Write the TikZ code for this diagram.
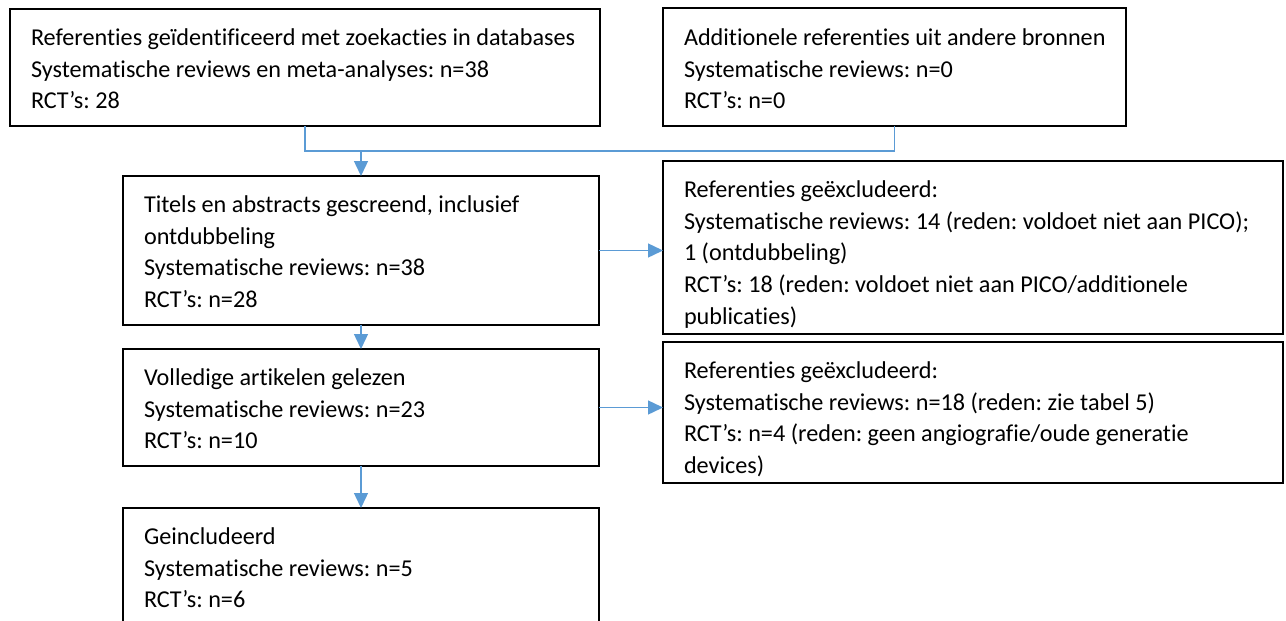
\documentclass[tikz,border=0pt]{standalone}
\usepackage{fontspec}
\setmainfont{Carlito}[Ligatures={NoCommon}]
\frenchspacing
\usetikzlibrary{arrows.meta,calc}
\newcommand\stk[1]{\vtop{\halign{##\hfil\cr#1\crcr}}}
\definecolor{conblue}{HTML}{5B9BD5}
\tikzset{
  box/.style={draw=black, line width=1.8pt, anchor=north west, inner sep=0pt, outer sep=0pt},
  txt/.style={anchor=base west, inner sep=0pt, outer sep=0pt, font=\fontsize{24.2}{31.7}\selectfont},
  conn/.style={draw=conblue, line width=1.4pt},
  arr/.style={conn, -{Triangle[length=15pt,width=14pt]}},
}
\begin{document}
\begin{tikzpicture}[x=1pt,y=-1pt]
\useasboundingbox (0,0) rectangle (1286,621);
\clip (0,0) rectangle (1286,621);
% boxes
\node[box, minimum width=590pt, minimum height=117pt] (b1) at (10,9) {};
\node[box, minimum width=463pt, minimum height=118pt] (b2) at (663,8) {};
\node[box, minimum width=476pt, minimum height=149pt] (tit) at (123,176) {};
\node[box, minimum width=620pt, minimum height=173pt] (exa) at (663,161) {};
\node[box, minimum width=476pt, minimum height=117pt] (vol) at (123,349) {};
\node[box, minimum width=620pt, minimum height=141pt] (exb) at (663,342) {};
\node[box, minimum width=476pt, minimum height=140pt] (inc) at (123,508) {};
% texts
\node[txt] (t1) at ($(b1.north west)+(21,36.5)$) {\stk{Referenties geïdentificeerd met zoekacties in databases\cr Systematische reviews en meta-analyses: n=38\cr RCT’s: 28}};
\node[txt] (t2) at ($(b2.north west)+(21,37.5)$) {\stk{Additionele referenties uit andere bronnen\cr Systematische reviews: n=0\cr RCT’s: n=0}};
\node[txt] (t3) at ($(tit.north west)+(21,36.5)$) {\stk{Titels en abstracts gescreend, inclusief\cr ontdubbeling\cr Systematische reviews: n=38\cr RCT’s: n=28}};
\node[txt] (t4) at ($(exa.north west)+(21,36.5)$) {\stk{Referenties geëxcludeerd:\cr Systematische reviews: 14 (reden: voldoet niet aan PICO);\cr 1 (ontdubbeling)\cr RCT’s: 18 (reden: voldoet niet aan PICO/additionele\cr publicaties)}};
\node[txt] (t5) at ($(vol.north west)+(21,36.5)$) {\stk{Volledige artikelen gelezen\cr Systematische reviews: n=23\cr RCT’s: n=10}};
\node[txt] (t6) at ($(exb.north west)+(21,36.5)$) {\stk{Referenties geëxcludeerd:\cr Systematische reviews: n=18 (reden: zie tabel 5)\cr RCT’s: n=4 (reden: geen angiografie/oude generatie\cr devices)}};
\node[txt] (t7) at ($(inc.north west)+(21,36.5)$) {\stk{Geincludeerd\cr Systematische reviews: n=5\cr RCT’s: n=6}};
% connectors
\coordinate (jn) at ($(b1.south)+(0,25)$);
\draw[conn] (b1.south) -- (jn) -| (b2.south);
\draw[arr] (tit.north |- jn) -- (tit.north);
\draw[arr] (tit.east) -- (tit.east -| exa.west);
\draw[arr] (tit.south) -- (vol.north);
\draw[arr] (vol.east) -- (vol.east -| exb.west);
\draw[arr] (vol.south) -- (inc.north);
\end{tikzpicture}
\end{document}
